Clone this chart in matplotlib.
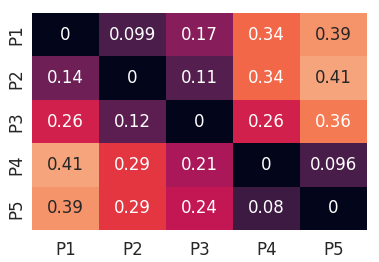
import matplotlib
matplotlib.use("Agg")
import matplotlib.pyplot as plt
import numpy as np
import seaborn as sns

labels = ["P1", "P2", "P3", "P4", "P5"]
row_p1 = [0, 0.099, 0.17, 0.34, 0.39]
row_p2 = [0.14, 0, 0.11, 0.34, 0.41]
row_p3 = [0.26, 0.12, 0, 0.26, 0.36]
row_p4 = [0.41, 0.29, 0.21, 0, 0.096]
row_p5 = [0.39, 0.29, 0.24, 0.08, 0]

dist = np.array([row_p1, row_p2, row_p3, row_p4, row_p5])

sns.set_theme(style="white")
fig = plt.figure(figsize=(3.79, 2.62), dpi=100)
ax = fig.add_axes([0.0844, 0.122, 0.884, 0.828])

sns.heatmap(dist, annot=True, cbar=False, cmap="rocket", vmin=0, vmax=0.5,
            xticklabels=labels, yticklabels=labels,
            annot_kws={"fontsize": 12}, ax=ax)
ax.tick_params(axis="both", length=0, labelsize=12, colors=".15")
ax.tick_params(axis="x", pad=8)
ax.tick_params(axis="y", pad=5)

fig.savefig("out.png", dpi=100)
